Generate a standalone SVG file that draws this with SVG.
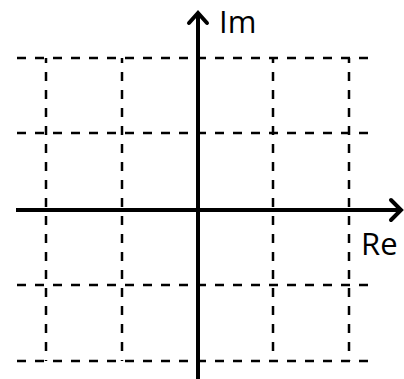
<svg xmlns="http://www.w3.org/2000/svg" width="404" height="379" viewBox="0 0 404 379">
  <style>
    .grid { stroke: #000; stroke-width: 2.5; stroke-dasharray: 9 9; fill: none; }
    .gv { stroke-dashoffset: 4; }
    .axis { stroke: #000; stroke-width: 4; fill: none; }
    .head { stroke: #000; stroke-width: 4; fill: none; stroke-linecap: round; stroke-linejoin: miter; }
    .lbl { font-family: "Open Sans", "Noto Sans", sans-serif; font-size: 31px; fill: #000; }
  </style>
  <rect width="404" height="379" fill="#fff"/>
  <g id="grid">
    <line class="grid" x1="17" y1="58" x2="377" y2="58"/>
    <line class="grid" x1="17" y1="133" x2="377" y2="133"/>
    <line class="grid" x1="17" y1="285" x2="377" y2="285"/>
    <line class="grid" x1="17" y1="361" x2="377" y2="361"/>
    <line class="grid gv" x1="46" y1="58" x2="46" y2="361"/>
    <line class="grid gv" x1="122" y1="58" x2="122" y2="361"/>
    <line class="grid gv" x1="273" y1="58" x2="273" y2="361"/>
    <line class="grid gv" x1="349" y1="58" x2="349" y2="361"/>
  </g>
  <g id="connectors">
    <line class="axis" x1="16" y1="210" x2="400" y2="210"/>
    <polyline class="head" points="391,200 401,210 391,220"/>
    <line class="axis" x1="198" y1="379" x2="198" y2="14"/>
    <polyline class="head" points="189,23 198,13 207,23"/>
  </g>
  <g id="im-label"><text class="lbl" x="219" y="33">Im</text></g>
  <g id="re-label"><text class="lbl" x="361" y="255">Re</text></g>
</svg>
